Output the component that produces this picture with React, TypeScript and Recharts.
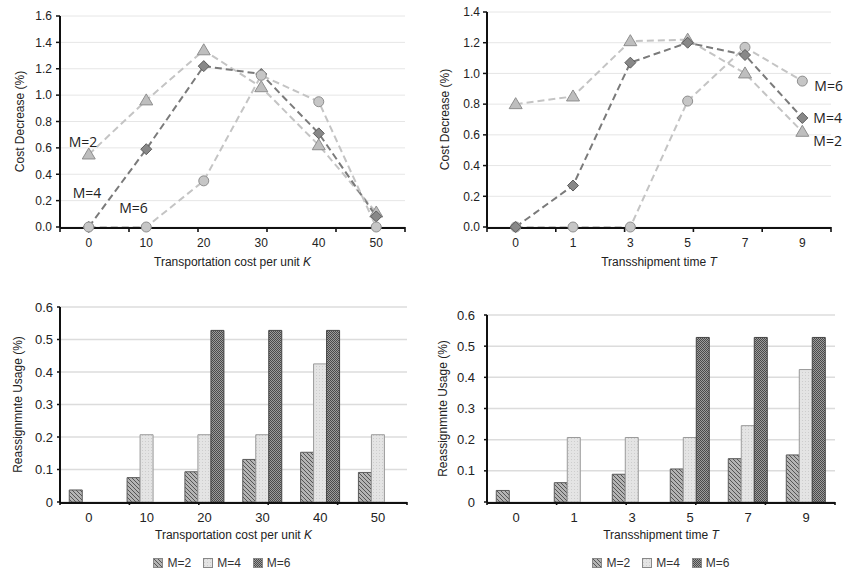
import React from 'react';
import {
  LineChart,
  Line,
  BarChart,
  Bar,
  XAxis,
  YAxis,
  CartesianGrid,
  ReferenceDot,
  Legend,
} from 'recharts';

const FONT = '"Liberation Sans", Arial, Helvetica, sans-serif';
const ANNO_FONT = '"Open Sans", "Liberation Sans", sans-serif';

// ---------- categories ----------
const kCategories = ['0', '10', '20', '30', '40', '50'];
const tCategories = ['0', '1', '3', '5', '7', '9'];

// ---------- cost decrease (%) vs K ----------
const costK_M2 = [0.55, 0.96, 1.34, 1.06, 0.62, 0.11];
const costK_M4 = [0, 0.59, 1.22, 1.16, 0.71, 0.08];
const costK_M6 = [0, 0, 0.35, 1.15, 0.95, 0];

// ---------- cost decrease (%) vs T ----------
const costT_M2 = [0.8, 0.85, 1.21, 1.22, 1.0, 0.62];
const costT_M4 = [0, 0.27, 1.07, 1.2, 1.12, 0.71];
const costT_M6 = [0, 0, 0, 0.82, 1.17, 0.95];

// ---------- reassignment usage (%) vs K ----------
const useK_M2 = [0.037, 0.075, 0.093, 0.131, 0.153, 0.091];
const useK_M4 = [0, 0.207, 0.207, 0.207, 0.425, 0.207];
const useK_M6 = [0, 0, 0.528, 0.528, 0.528, 0];

// ---------- reassignment usage (%) vs T ----------
const useT_M2 = [0.037, 0.062, 0.089, 0.106, 0.139, 0.151];
const useT_M4 = [0, 0.207, 0.207, 0.207, 0.245, 0.425];
const useT_M6 = [0, 0, 0, 0.528, 0.528, 0.528];

// ---------- tick values ----------
const costTicksK = [0, 0.2, 0.4, 0.6, 0.8, 1.0, 1.2, 1.4, 1.6];
const costTicksT = [0, 0.2, 0.4, 0.6, 0.8, 1.0, 1.2, 1.4];
const usageTicks = [0, 0.1, 0.2, 0.3, 0.4, 0.5, 0.6];

// ---------- series names ----------
const seriesNames = ['M=2', 'M=4', 'M=6'];

// boundaries between category bands (for the "between categories" tick marks)
const edgeTicks = (cats: string[]) => [...cats.map((_, i) => i), cats.length];

const buildRows = (cats: string[], a: number[], b: number[], c: number[]) =>
  cats.map((cat, i) => ({ cat, m2: a[i], m4: b[i], m6: c[i] }));

const rowsCostK = buildRows(kCategories, costK_M2, costK_M4, costK_M6);
const rowsCostT = buildRows(tCategories, costT_M2, costT_M4, costT_M6);
const rowsUseK = buildRows(kCategories, useK_M2, useK_M4, useK_M6);
const rowsUseT = buildRows(tCategories, useT_M2, useT_M4, useT_M6);

const fmt1 = (v: number) => v.toFixed(1);
const fmtUsage = (v: number) => (v === 0 ? '0' : v.toFixed(1));
const blank = () => '';

const CAT = 1; // id of the category x axis (edge-tick axis uses id 0 so it sits at the plot edge)

function XTitle(props: any) {
  const { viewBox, main, italic, baseline = 39, fontSize = 12 } = props;
  if (!viewBox) return null;
  const { x, y, width } = viewBox;
  return (
    <text x={x + width / 2} y={y + baseline} textAnchor="middle" fontSize={fontSize} fontFamily={FONT} fill="#222">
      {main}
      <tspan fontStyle="italic">{italic}</tspan>
    </text>
  );
}

function YTitle(props: any) {
  const { viewBox, text, cx = 20, fontSize = 11 } = props;
  if (!viewBox) return null;
  const px = (viewBox.x || 0) + cx;
  const py = viewBox.y + viewBox.height / 2;
  return (
    <text
      x={px}
      y={py}
      transform={`rotate(-90 ${px} ${py})`}
      textAnchor="middle"
      dominantBaseline="central"
      fontSize={fontSize}
      fontFamily={FONT}
      fill="#222"
    >
      {text}
    </text>
  );
}

function Anno(props: any) {
  const { viewBox, text, dx = 0 } = props;
  if (!viewBox) return null;
  const x = viewBox.x + (viewBox.width || 0) / 2 + dx;
  const y = viewBox.y + (viewBox.height || 0) / 2;
  return (
    <text x={x} y={y} fontSize={14} fontFamily={ANNO_FONT} fill="#222">
      {text}
    </text>
  );
}

const triDot = (p: any) => {
  if (p.cx == null || p.cy == null) return <g key={`t-${p.index}`} />;
  const { cx, cy } = p;
  return (
    <path
      key={`t-${p.index}`}
      d={`M${cx},${cy - 6.5}L${cx + 6.5},${cy + 4.5}L${cx - 6.5},${cy + 4.5}Z`}
      fill="#bebebe"
      stroke="#8e8e8e"
      strokeWidth={1}
    />
  );
};

const diaDot = (p: any) => {
  if (p.cx == null || p.cy == null) return <g key={`d-${p.index}`} />;
  const { cx, cy } = p;
  return (
    <path
      key={`d-${p.index}`}
      d={`M${cx},${cy - 5.5}L${cx + 5.5},${cy}L${cx},${cy + 5.5}L${cx - 5.5},${cy}Z`}
      fill="#888888"
      stroke="#5c5c5c"
      strokeWidth={1}
    />
  );
};

const cirDot = (p: any) => {
  if (p.cx == null || p.cy == null) return <g key={`c-${p.index}`} />;
  return (
    <circle key={`c-${p.index}`} cx={p.cx} cy={p.cy} r={5} fill="#c6c6c6" stroke="#8e8e8e" strokeWidth={1} />
  );
};

const renderLegend = (props: any) => {
  const payload = props.payload || [];
  return (
    <div
      style={{
        display: 'flex',
        justifyContent: 'center',
        alignItems: 'center',
        gap: 12,
        fontSize: 12,
        fontFamily: FONT,
        color: '#333',
        lineHeight: '14px',
      }}
    >
      {payload.map((p: any, i: number) => (
        <span key={i} style={{ display: 'flex', alignItems: 'center' }}>
          <svg width={10} height={10} style={{ display: 'block' }}>
            <rect x={0.5} y={0.5} width={9} height={9} fill={p.color} stroke="#888" strokeWidth={1} />
          </svg>
          <span style={{ marginLeft: 4 }}>{p.value}</span>
        </span>
      ))}
    </div>
  );
};

const axisStroke = { stroke: '#111', strokeWidth: 2 };
const tickStroke = { stroke: '#111', strokeWidth: 1.6 };

// Axis that only draws tick marks at band boundaries
const edgeAxis = (cats: string[], len: number) => (
  <XAxis
    xAxisId={0}
    type="number"
    domain={[0, cats.length]}
    ticks={edgeTicks(cats)}
    allowDataOverflow
    height={1}
    axisLine={false}
    tickLine={tickStroke}
    tickSize={len}
    tickFormatter={blank}
    interval={0}
  />
);

export default function App() {
  return (
    <div
      style={{
        position: 'absolute',
        left: 0,
        top: 0,
        width: 844,
        height: 572,
        background: '#ffffff',
        overflow: 'hidden',
      }}
    >
      <svg width={0} height={0} style={{ position: 'absolute' }}>
        <defs>
          <pattern id="pM2" patternUnits="userSpaceOnUse" width={4} height={4}>
            <rect width={4} height={4} fill="#b4b4b4" />
            <path d="M-1,3 l2,2 M0,0 l4,4 M3,-1 l2,2" stroke="#555" strokeWidth={1} />
          </pattern>
          <pattern id="pM4" patternUnits="userSpaceOnUse" width={3} height={3}>
            <rect width={3} height={3} fill="#e4e4e4" />
            <rect x={1} y={1} width={1} height={1} fill="#cdcdcd" />
          </pattern>
          <pattern id="pM6" patternUnits="userSpaceOnUse" width={2} height={2}>
            <rect width={2} height={2} fill="#9c9c9c" />
            <rect x={0} y={0} width={1} height={1} fill="#4a4a4a" />
            <rect x={1} y={1} width={1} height={1} fill="#4a4a4a" />
          </pattern>
        </defs>
      </svg>

      {/* Top-left: cost decrease vs K */}
      <div style={{ position: 'absolute', left: 0, top: 0 }}>
        <LineChart width={420} height={280} data={rowsCostK} margin={{ top: 16, right: 15, bottom: 22, left: 0 }}>
          <CartesianGrid vertical={false} stroke="#e6e6e6" xAxisId={CAT} />
          {edgeAxis(kCategories, 5)}
          <XAxis
            xAxisId={CAT}
            dataKey="cat"
            scale="band"
            height={30}
            interval={0}
            axisLine={axisStroke}
            tickLine={false}
            tickSize={5}
            tickMargin={5}
            tick={{ fontSize: 12, fill: '#222', fontFamily: FONT }}
            label={<XTitle main="Transportation cost per unit " italic="K" baseline={38} />}
          />
          <YAxis
            width={60}
            domain={[0, 1.6]}
            ticks={costTicksK}
            tickFormatter={fmt1}
            axisLine={axisStroke}
            tickLine={{ stroke: '#111', strokeWidth: 1.5 }}
            tickSize={4}
            tickMargin={4}
            tick={{ fontSize: 12, fill: '#222', fontFamily: FONT }}
            label={<YTitle text="Cost Decrease (%)" cx={20} fontSize={12} />}
          />
          <Line xAxisId={CAT} dataKey="m2" name={seriesNames[0]} type="linear" stroke="#c4c4c4" strokeWidth={2} strokeDasharray="7 4" dot={triDot} activeDot={false} isAnimationActive={false} />
          <Line xAxisId={CAT} dataKey="m4" name={seriesNames[1]} type="linear" stroke="#7a7a7a" strokeWidth={2} strokeDasharray="7 4" dot={diaDot} activeDot={false} isAnimationActive={false} />
          <Line xAxisId={CAT} dataKey="m6" name={seriesNames[2]} type="linear" stroke="#c4c4c4" strokeWidth={2} strokeDasharray="7 4" dot={cirDot} activeDot={false} isAnimationActive={false} />
          <ReferenceDot xAxisId={CAT} x="0" y={0.607} r={0} fill="none" stroke="none" ifOverflow="visible" label={<Anno text={seriesNames[0]} dx={-20} />} />
          <ReferenceDot xAxisId={CAT} x="0" y={0.22} r={0} fill="none" stroke="none" ifOverflow="visible" label={<Anno text={seriesNames[1]} dx={-16} />} />
          <ReferenceDot xAxisId={CAT} x="10" y={0.106} r={0} fill="none" stroke="none" ifOverflow="visible" label={<Anno text={seriesNames[2]} dx={-27} />} />
        </LineChart>
      </div>

      {/* Top-right: cost decrease vs T */}
      <div style={{ position: 'absolute', left: 420, top: 0 }}>
        <LineChart width={424} height={280} data={rowsCostT} margin={{ top: 12, right: 13, bottom: 22, left: 0 }}>
          <CartesianGrid vertical={false} stroke="#e6e6e6" xAxisId={CAT} />
          {edgeAxis(tCategories, 5)}
          <XAxis
            xAxisId={CAT}
            dataKey="cat"
            scale="band"
            height={30}
            interval={0}
            axisLine={axisStroke}
            tickLine={false}
            tickSize={5}
            tickMargin={5}
            tick={{ fontSize: 12, fill: '#222', fontFamily: FONT }}
            label={<XTitle main="Transshipment time " italic="T" baseline={38} />}
          />
          <YAxis
            width={67}
            domain={[0, 1.4]}
            ticks={costTicksT}
            tickFormatter={fmt1}
            axisLine={axisStroke}
            tickLine={{ stroke: '#111', strokeWidth: 1.5 }}
            tickSize={4}
            tickMargin={3}
            tick={{ fontSize: 12, fill: '#222', fontFamily: FONT }}
            label={<YTitle text="Cost Decrease (%)" cx={25} fontSize={12} />}
          />
          <Line xAxisId={CAT} dataKey="m2" name={seriesNames[0]} type="linear" stroke="#c4c4c4" strokeWidth={2} strokeDasharray="7 4" dot={triDot} activeDot={false} isAnimationActive={false} />
          <Line xAxisId={CAT} dataKey="m6" name={seriesNames[2]} type="linear" stroke="#c4c4c4" strokeWidth={2} strokeDasharray="7 4" dot={cirDot} activeDot={false} isAnimationActive={false} />
          <Line xAxisId={CAT} dataKey="m4" name={seriesNames[1]} type="linear" stroke="#7a7a7a" strokeWidth={2} strokeDasharray="7 4" dot={diaDot} activeDot={false} isAnimationActive={false} />
          <ReferenceDot xAxisId={CAT} x="9" y={0.885} r={0} fill="none" stroke="none" ifOverflow="visible" label={<Anno text={seriesNames[2]} dx={12} />} />
          <ReferenceDot xAxisId={CAT} x="9" y={0.677} r={0} fill="none" stroke="none" ifOverflow="visible" label={<Anno text={seriesNames[1]} dx={11} />} />
          <ReferenceDot xAxisId={CAT} x="9" y={0.527} r={0} fill="none" stroke="none" ifOverflow="visible" label={<Anno text={seriesNames[0]} dx={11} />} />
        </LineChart>
      </div>

      {/* Bottom-left: reassignment usage vs K */}
      <div style={{ position: 'absolute', left: 0, top: 290 }}>
        <BarChart
          width={420}
          height={282}
          data={rowsUseK}
          margin={{ top: 17, right: 13, bottom: 39, left: 0 }}
          barCategoryGap="16%"
          barGap={0}
        >
          <CartesianGrid vertical={false} stroke="#dcdcdc" strokeWidth={1.5} xAxisId={CAT} />
          {edgeAxis(kCategories, 3)}
          <XAxis
            xAxisId={CAT}
            dataKey="cat"
            height={30}
            interval={0}
            axisLine={axisStroke}
            tickLine={false}
            tickSize={3}
            tickMargin={7}
            tick={{ fontSize: 13, fill: '#222', fontFamily: FONT }}
            label={<XTitle main="Transportation cost per unit " italic="K" baseline={36} />}
          />
          <YAxis
            width={60}
            domain={[0, 0.6]}
            ticks={usageTicks}
            tickFormatter={fmtUsage}
            axisLine={axisStroke}
            tickLine={{ stroke: '#111', strokeWidth: 1.5 }}
            tickSize={3}
            tickMargin={4}
            tick={{ fontSize: 13, fill: '#222', fontFamily: FONT }}
            label={<YTitle text="Reassignmnte Usage (%)" cx={18} fontSize={12} />}
          />
          <Bar xAxisId={CAT} dataKey="m2" name={seriesNames[0]} fill="url(#pM2)" stroke="#5a5a5a" strokeWidth={1} isAnimationActive={false} />
          <Bar xAxisId={CAT} dataKey="m4" name={seriesNames[1]} fill="url(#pM4)" stroke="#9a9a9a" strokeWidth={1} isAnimationActive={false} />
          <Bar xAxisId={CAT} dataKey="m6" name={seriesNames[2]} fill="url(#pM6)" stroke="#444" strokeWidth={1} isAnimationActive={false} />
          <Legend
            layout="horizontal"
            verticalAlign="middle"
            align="center"
            wrapperStyle={{ top: 266, left: 20, width: 404 }}
            content={renderLegend}
          />
        </BarChart>
      </div>

      {/* Bottom-right: reassignment usage vs T */}
      <div style={{ position: 'absolute', left: 420, top: 290 }}>
        <BarChart
          width={424}
          height={282}
          data={rowsUseT}
          margin={{ top: 25, right: 9, bottom: 39, left: 0 }}
          barCategoryGap="16%"
          barGap={0}
        >
          <CartesianGrid vertical={false} stroke="#dcdcdc" strokeWidth={1.5} xAxisId={CAT} />
          {edgeAxis(tCategories, 3)}
          <XAxis
            xAxisId={CAT}
            dataKey="cat"
            height={30}
            interval={0}
            axisLine={axisStroke}
            tickLine={false}
            tickSize={3}
            tickMargin={7}
            tick={{ fontSize: 13, fill: '#222', fontFamily: FONT }}
            label={<XTitle main="Transshipment time " italic="T" baseline={36} />}
          />
          <YAxis
            width={67}
            domain={[0, 0.6]}
            ticks={usageTicks}
            tickFormatter={fmtUsage}
            axisLine={axisStroke}
            tickLine={{ stroke: '#111', strokeWidth: 1.5 }}
            tickSize={3}
            tickMargin={9}
            tick={{ fontSize: 13, fill: '#222', fontFamily: FONT }}
            label={<YTitle text="Reassignmnte Usage (%)" cx={23} fontSize={12} />}
          />
          <Bar xAxisId={CAT} dataKey="m2" name={seriesNames[0]} fill="url(#pM2)" stroke="#5a5a5a" strokeWidth={1} isAnimationActive={false} />
          <Bar xAxisId={CAT} dataKey="m4" name={seriesNames[1]} fill="url(#pM4)" stroke="#9a9a9a" strokeWidth={1} isAnimationActive={false} />
          <Bar xAxisId={CAT} dataKey="m6" name={seriesNames[2]} fill="url(#pM6)" stroke="#444" strokeWidth={1} isAnimationActive={false} />
          <Legend
            layout="horizontal"
            verticalAlign="middle"
            align="center"
            wrapperStyle={{ top: 266, left: 67, width: 348 }}
            content={renderLegend}
          />
        </BarChart>
      </div>
    </div>
  );
}
